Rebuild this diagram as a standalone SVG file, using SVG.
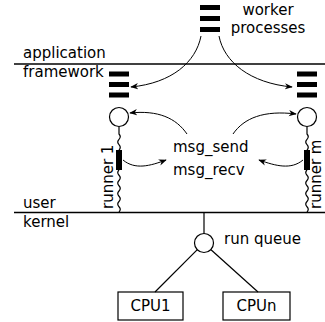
<svg xmlns="http://www.w3.org/2000/svg" width="325" height="322" viewBox="0 0 325 322">
<style>
text{font-family:"DejaVu Sans","Liberation Sans",sans-serif;font-size:15px;fill:#000}
.ln{stroke:#000;stroke-width:1.2;fill:none}
.hl{stroke:#000;stroke-width:1.5;fill:none}
.ar{stroke:#000;stroke-width:1;fill:none;marker-end:url(#ah)}
.bar{fill:#000}
.nd{fill:#fff;stroke:#000;stroke-width:1.2}
</style>
<defs>
<marker id="ah" viewBox="0 0 10 10" refX="9" refY="5" markerWidth="8" markerHeight="8" markerUnits="userSpaceOnUse" orient="auto">
<path d="M0,1 L10,5 L0,9 L3,5 Z" fill="#000"/>
</marker>
</defs>
<g id="layers">
<line class="hl" x1="14" y1="64" x2="325" y2="64"/>
<line class="hl" x1="14" y1="212.5" x2="325" y2="212.5"/>
<text x="23" y="58">application</text>
<text x="23" y="77">framework</text>
<text x="23" y="208">user</text>
<text x="23" y="227">kernel</text>
</g>
<g id="workers">
<rect class="bar" x="200" y="5" width="20" height="5"/>
<rect class="bar" x="200" y="16" width="20" height="5"/>
<rect class="bar" x="200" y="27" width="20" height="5"/>
<text x="268" y="15" text-anchor="middle">worker</text>
<text x="268" y="33" text-anchor="middle">processes</text>
</g>
<g id="stack-left">
<rect class="bar" x="109" y="71.5" width="20" height="5"/>
<rect class="bar" x="109" y="82" width="20" height="5"/>
<rect class="bar" x="109" y="92.5" width="20" height="5"/>
</g>
<g id="stack-right">
<rect class="bar" x="297" y="71.5" width="20" height="5"/>
<rect class="bar" x="297" y="82" width="20" height="5"/>
<rect class="bar" x="297" y="92.5" width="20" height="5"/>
</g>
<g id="runner1">
<path class="ln" d="M119,126.5 L119,134 q2.5,2.7 0,5.3 q-2.5,2.7 0,5.3 q2.5,2.7 0,5.4 M119,170 q-2.5,2.6 0,5.25 q2.5,2.6 0,5.25 q-2.5,2.6 0,5.25 q2.5,2.6 0,5.25 q-2.5,2.6 0,5.25 q2.5,2.6 0,5.25 q-2.5,2.6 0,5.25 q2.5,2.6 0,5.25"/>
<circle class="nd" cx="119" cy="117" r="9.5"/>
<rect class="bar" x="116" y="150" width="6" height="20"/>
<text transform="translate(113,209) rotate(-90)">runner 1</text>
</g>
<g id="runnerm">
<path class="ln" d="M307,126.5 L307,134 q2.5,2.7 0,5.3 q-2.5,2.7 0,5.3 q2.5,2.7 0,5.4 M307,170 q-2.5,2.6 0,5.25 q2.5,2.6 0,5.25 q-2.5,2.6 0,5.25 q2.5,2.6 0,5.25 q-2.5,2.6 0,5.25 q2.5,2.6 0,5.25 q-2.5,2.6 0,5.25 q2.5,2.6 0,5.25"/>
<circle class="nd" cx="307" cy="117" r="9.5"/>
<rect class="bar" x="304" y="150" width="6" height="20"/>
<text transform="translate(321,209) rotate(-90)">runner m</text>
</g>
<g id="msg">
<text x="173" y="152">msg_send</text>
<text x="173" y="175">msg_recv</text>
</g>
<g id="runqueue">
<circle class="nd" cx="204" cy="243" r="9.5"/>
<text x="224" y="244">run queue</text>
</g>
<g id="cpu1">
<rect class="nd" x="118" y="292" width="65" height="28"/>
<text x="150.5" y="311" text-anchor="middle">CPU1</text>
</g>
<g id="cpun">
<rect class="nd" x="223" y="292" width="67" height="28"/>
<text x="256.5" y="311" text-anchor="middle">CPUn</text>
</g>
<g id="connectors">
<path class="ar" d="M201,36 C196,62 172,83 131,87"/>
<path class="ar" d="M219,36 C224,62 250,83 292,87"/>
<path class="ar" d="M187,134 C176,118 158,110 130,113"/>
<path class="ar" d="M233,134 C244,118 264,110 296,114"/>
<path class="ar" d="M123,160 C135,170 150,166 166,160"/>
<path class="ar" d="M303,160 C291,170 276,166 259,160"/>
<line class="ln" x1="204" y1="213" x2="204" y2="233.5"/>
<line class="ln" x1="197.3" y1="249.7" x2="155" y2="292"/>
<line class="ln" x1="211" y1="249.8" x2="258" y2="292"/>
</g>
</svg>
